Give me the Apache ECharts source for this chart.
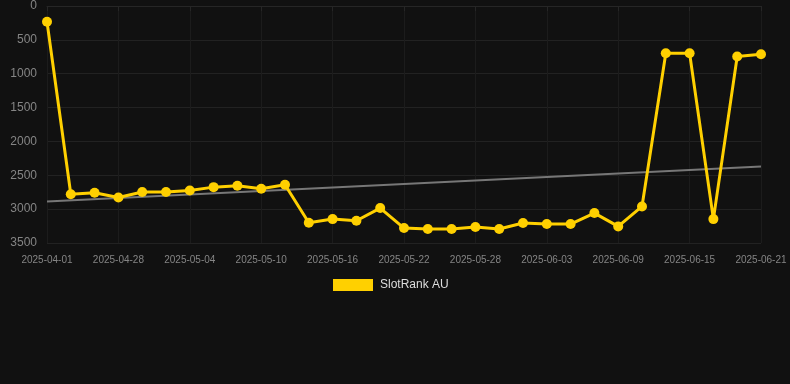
<!DOCTYPE html>
<html><head><meta charset="utf-8">
<script src="https://cdn.jsdelivr.net/npm/echarts@6/dist/echarts.min.js"></script>
<style>html,body{margin:0;padding:0;background:#111111;}#c{width:790px;height:384px;}</style>
</head><body><div id="c"></div>
<script>
const dates = ["2025-04-01","2025-04-24","2025-04-26","2025-04-28","2025-04-30","2025-05-02","2025-05-04","2025-05-06","2025-05-08","2025-05-10","2025-05-12","2025-05-14","2025-05-16","2025-05-18","2025-05-20","2025-05-22","2025-05-24","2025-05-26","2025-05-28","2025-05-30","2025-06-01","2025-06-03","2025-06-05","2025-06-07","2025-06-09","2025-06-11","2025-06-13","2025-06-15","2025-06-17","2025-06-19","2025-06-21"];
const rankAU = [232,2780,2758,2827,2748,2748,2724,2675,2655,2699,2640,3200,3147,3171,2984,3279,3294,3294,3265,3294,3205,3220,3220,3058,3255,2960,698,698,3147,747,713];
const trendStart = 2886;
const trendEnd = 2370;
const yTicks = [0,500,1000,1500,2000,2500,3000,3500];

const chart = echarts.init(document.getElementById('c'), null, {renderer:'canvas'});
chart.setOption({
  backgroundColor:'#111111',
  animation:false,
  grid:{left:47,right:29,top:6,bottom:141,containLabel:false},
  legend:{
    bottom:88,left:328,
    itemWidth:40,itemHeight:12,
    data:[{name:'SlotRank AU',icon:'rect'}],
    textStyle:{color:'#dddddd',fontSize:12,padding:[0,0,0,2],fontFamily:'Liberation Sans, Arial, sans-serif'}
  },
  xAxis:{
    type:'category',data:dates,boundaryGap:false,
    axisLine:{show:true,lineStyle:{color:'#262626'}},
    axisTick:{show:true,interval:2,lineStyle:{color:'#262626'}},
    axisLabel:{interval:2,color:'#858585',fontSize:10,margin:12,fontFamily:'Liberation Sans, Arial, sans-serif'},
    splitLine:{show:true,interval:2,lineStyle:{color:'#1c1c1c'}}
  },
  yAxis:{
    type:'value',inverse:true,min:yTicks[0],max:yTicks[yTicks.length-1],interval:500,
    axisLine:{show:false},axisTick:{show:false},
    axisLabel:{color:'#858585',fontSize:12,margin:10,fontFamily:'Liberation Sans, Arial, sans-serif',
      formatter:function(v){return String(v);}},
    splitLine:{show:true,lineStyle:{color:'#222222'}}
  },
  series:[
    {
      name:'SlotRank AU',type:'line',data:rankAU,
      color:'#FFD000',
      lineStyle:{width:3,color:'#FFD000'},
      itemStyle:{color:'#FFD000'},
      symbol:'circle',symbolSize:10,showAllSymbol:true,z:3
    },
    {
      name:'trend',type:'line',
      data:[[dates[0],trendStart],[dates[dates.length-1],trendEnd]],
      symbol:'none',lineStyle:{width:2,color:'#777777'},z:2,silent:true
    }
  ]
});
</script></body></html>
